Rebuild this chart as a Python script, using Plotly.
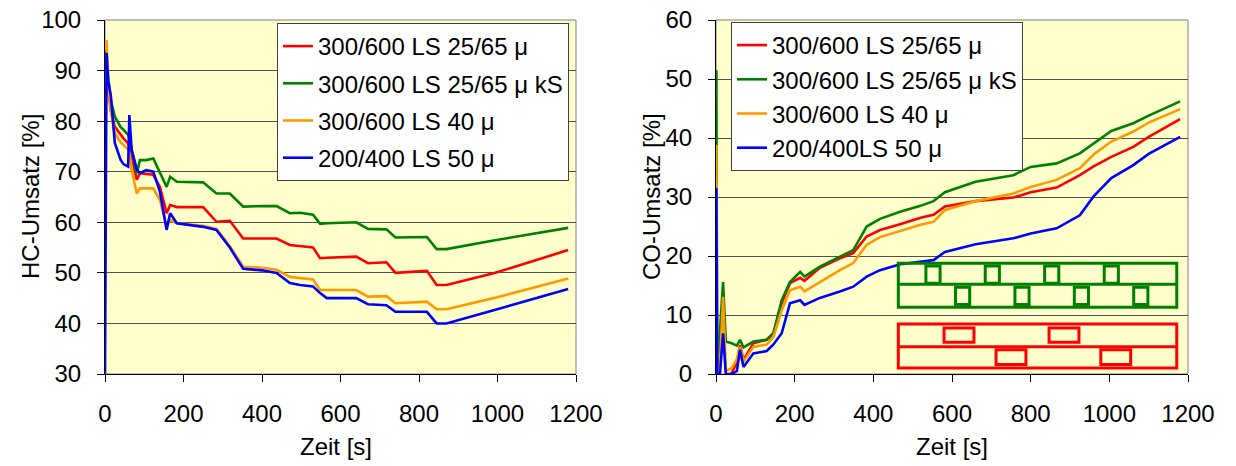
import plotly.graph_objects as go

# ---------------- data ----------------
t_hc = [0, 4, 8, 15, 25, 40, 47, 59, 62, 68, 81, 89, 105, 123, 140, 157, 166, 183, 250, 284,
        318, 352, 400, 437, 471, 497, 530, 548, 565, 640, 670, 717, 740, 820, 845, 870, 990, 1180]
hc_red = [90, 92, 86.2, 82, 78.9, 77.2, 76.6, 75.6, 75, 73, 68.4, 69.7, 69.6, 69.4, 67, 61.8, 63.4, 63, 63, 60.1,
          60.3, 56.8, 56.8, 56.8, 55.5, 55.3, 55, 52.9, 53, 53.2, 51.9, 52.1, 50, 50.4, 47.6, 47.6, 49.9, 54.5]
hc_green = [92, 94, 88.8, 84, 80.9, 78.8, 78.3, 77.3, 76.5, 74.3, 69.7, 72.3, 72.3, 72.6, 69.7, 67, 69, 68, 67.9, 65.7,
            65.7, 63.1, 63.2, 63.2, 61.8, 61.9, 61.5, 59.7, 59.8, 60, 58.7, 58.6, 57, 57.1, 54.7, 54.7, 56.4, 58.9]
hc_orange = [94, 96, 87.5, 82, 77.6, 75.8, 75.3, 74.4, 73.5, 70.3, 65.7, 66.7, 66.7, 66.7, 64.4, 59.1, 60.5, 59.8, 59.3, 58.7,
             55.3, 51.2, 51, 50.6, 49.2, 49, 48.7, 46.6, 46.6, 46.6, 45.3, 45.4, 44, 44.3, 42.8, 42.8, 45, 48.9]
hc_blue = [30, 93.5, 88, 85, 75.7, 72.3, 71.5, 71, 81.2, 74.3, 70.5, 69.7, 70.3, 70, 66, 58.5, 61.8, 59.8, 59.1, 58.5,
           55, 50.8, 50.5, 50, 48, 47.6, 47.3, 46, 45, 45, 43.8, 43.6, 42.3, 42.3, 40, 40, 42.6, 46.8]

t_co = [0, 1, 3, 10, 18, 25, 40, 53, 61, 70, 95, 129, 146, 167, 188, 214, 225, 264, 315, 349,
        383, 417, 468, 520, 553, 582, 660, 756, 800, 866, 925, 960, 1005, 1061, 1100, 1180]
co_red = [-1, -1, -1, -1, -1, -1, 0.2, 1.9, 4.9, 2.4, 5.2, 5.8, 6.9, 12, 15.4, 16.3, 15.8, 18, 19.6, 20.5,
          23.3, 24.4, 25.4, 26.5, 27, 28.4, 29.3, 29.9, 30.8, 31.6, 33.7, 35.2, 36.8, 38.5, 40.2, 43.2]
co_green = [0, 51.5, 0, 7.2, 15.6, 5.5, 5.2, 4.8, 5.8, 4.5, 5.5, 5.8, 6.9, 12.5, 15.6, 17.3, 16.5, 18.2, 19.9, 21,
            25, 26.3, 27.5, 28.5, 29.3, 30.8, 32.6, 33.7, 35.1, 35.7, 37.4, 39, 41.2, 42.5, 43.8, 46.2]
co_orange = [0, 38.8, 0, 1, 13.1, 0.5, 1, 2.5, 4.6, 2.1, 4.6, 5, 6.3, 10.8, 14.2, 14.8, 14, 15.6, 17.6, 18.8,
             21.9, 23.2, 24.3, 25.3, 25.8, 27.8, 29.3, 30.6, 31.7, 32.9, 34.9, 37.2, 39.4, 41.1, 42.6, 44.9]
co_blue = [0, 31.5, 0, 0, 6.9, 0, 0, 0.5, 4.1, 1.2, 3.5, 3.9, 5, 6.9, 12, 12.5, 11.7, 12.9, 14, 14.8,
           16.5, 17.6, 18.6, 19.1, 19.3, 20.7, 22, 23, 23.8, 24.7, 26.9, 30.1, 33.2, 35.4, 37.3, 40.2]

names_hc = ["300/600 LS 25/65 μ", "300/600 LS 25/65 μ kS", "300/600 LS 40 μ", "200/400 LS 50 μ"]
names_co = ["300/600 LS 25/65 μ", "300/600 LS 25/65 μ kS", "300/600 LS 40 μ", "200/400LS 50 μ"]
colors = ["#FF0000", "#008000", "#FF9900", "#0000FF"]
x_ticks = [0, 200, 400, 600, 800, 1000, 1200]
hc_ticks = [30, 40, 50, 60, 70, 80, 90, 100]
co_ticks = [0, 10, 20, 30, 40, 50, 60]

FONT = "Liberation Sans, Arial, Helvetica, sans-serif"
BG = "#FFFFCC"
FS = 24

fig = go.Figure()

for i, (name, col, ys) in enumerate(zip(names_hc, colors, [hc_red, hc_green, hc_orange, hc_blue])):
    fig.add_trace(go.Scatter(x=t_hc, y=ys, mode="lines", name=name, line=dict(color=col, width=2.6),
                             xaxis="x", yaxis="y", legend="legend", legendgroup="hc%d" % i))
for i, (name, col, ys) in enumerate(zip(names_co, colors, [co_red, co_green, co_orange, co_blue])):
    fig.add_trace(go.Scatter(x=t_co, y=ys, mode="lines", name=name, line=dict(color=col, width=2.6),
                             xaxis="x2", yaxis="y2", legend="legend2", legendgroup="co%d" % i))

W, H = 1236, 466
def px(x):
    return x / W
def py(y):
    return 1 - y / H

axis_common = dict(showline=True, linecolor="black", linewidth=1, ticks="outside", ticklen=7,
                   tickcolor="black", tickfont=dict(family=FONT, size=FS, color="black"),
                   zeroline=False, automargin=False)

fig.update_layout(
    template="none",
    width=W, height=H,
    margin=dict(l=0, r=0, t=0, b=0, pad=0),
    paper_bgcolor="white", plot_bgcolor=BG,
    font=dict(family=FONT, size=FS, color="black"),
    xaxis=dict(domain=[px(105), px(576)], range=[0, 1200], tickvals=x_ticks, showgrid=False,
               anchor="y", ticklabelstandoff=11, **axis_common),
    yaxis=dict(domain=[py(374), py(20)], range=[30, 100], tickvals=hc_ticks, showgrid=True,
               gridcolor="#505050", gridwidth=1, anchor="x", ticklabelstandoff=11, **axis_common),
    xaxis2=dict(domain=[px(716), px(1188)], range=[0, 1200], tickvals=x_ticks, showgrid=False,
                anchor="y2", ticklabelstandoff=11, **axis_common),
    yaxis2=dict(domain=[py(374), py(20)], range=[0, 60], tickvals=co_ticks, showgrid=True,
                gridcolor="#505050", gridwidth=1, anchor="x2", ticklabelstandoff=11, **axis_common),
    legend=dict(x=px(277), y=py(23), xanchor="left", yanchor="top", bgcolor="white",
                bordercolor="#404040", borderwidth=1, font=dict(family=FONT, size=FS),
                tracegroupgap=3, itemwidth=30),
    legend2=dict(x=px(731), y=py(22), xanchor="left", yanchor="top", bgcolor="white",
                 bordercolor="#404040", borderwidth=1, font=dict(family=FONT, size=FS),
                 tracegroupgap=0, itemwidth=30),
    showlegend=True,
)

# frame around plot areas (grey top/right)
shapes = []
for xr, yr in [("x domain", "y domain"), ("x2 domain", "y2 domain")]:
    shapes.append(dict(type="rect", xref=xr, yref=yr, x0=0, x1=1, y0=0, y1=1,
                       line=dict(color="#808080", width=1), layer="below"))

# schematic of the two channel arrangements (decoration inside the CO plot)
def box(x0, x1, y0, y1, col):
    return dict(type="rect", xref="x2", yref="y2", x0=x0, x1=x1, y0=y0, y1=y1,
                line=dict(color=col, width=3), fillcolor="rgba(0,0,0,0)")
def hline(x0, x1, y, col):
    return dict(type="line", xref="x2", yref="y2", x0=x0, x1=x1, y0=y, y1=y,
                line=dict(color=col, width=3))

g = "#008000"
shapes.append(box(463.5, 1171.4, 11.3, 18.76, g))
shapes.append(hline(463.5, 1171.4, 15.2, g))
for c in [551.7, 702.5, 853.5, 1005]:
    shapes.append(box(c - 18, c + 18, 15.4, 18.3, g))
for c in [627, 778, 929, 1080]:
    shapes.append(box(c - 18, c + 18, 11.8, 14.7, g))
r = "#FF0000"
shapes.append(box(463.5, 1171.4, 1.02, 8.47, r))
shapes.append(hline(463.5, 1171.4, 4.63, r))
for c in [617.8, 884.8]:
    shapes.append(box(c - 38, c + 38, 5.4, 7.8, r))
for c in [750, 1016.3]:
    shapes.append(box(c - 38, c + 38, 1.6, 4.1, r))
fig.update_layout(shapes=shapes)

ann_font = dict(family=FONT, size=FS, color="black")
fig.update_layout(annotations=[
    dict(text="HC-Umsatz [%]", x=px(30), y=py(197), xref="paper", yref="paper", textangle=-90,
         showarrow=False, font=ann_font, xanchor="center", yanchor="middle"),
    dict(text="CO-Umsatz [%]", x=px(651), y=py(197), xref="paper", yref="paper", textangle=-90,
         showarrow=False, font=ann_font, xanchor="center", yanchor="middle"),
    dict(text="Zeit [s]", x=px(336), y=py(446), xref="paper", yref="paper",
         showarrow=False, font=ann_font, xanchor="center", yanchor="middle"),
    dict(text="Zeit [s]", x=px(952), y=py(446), xref="paper", yref="paper",
         showarrow=False, font=ann_font, xanchor="center", yanchor="middle"),
])

fig.write_html("out.html")
